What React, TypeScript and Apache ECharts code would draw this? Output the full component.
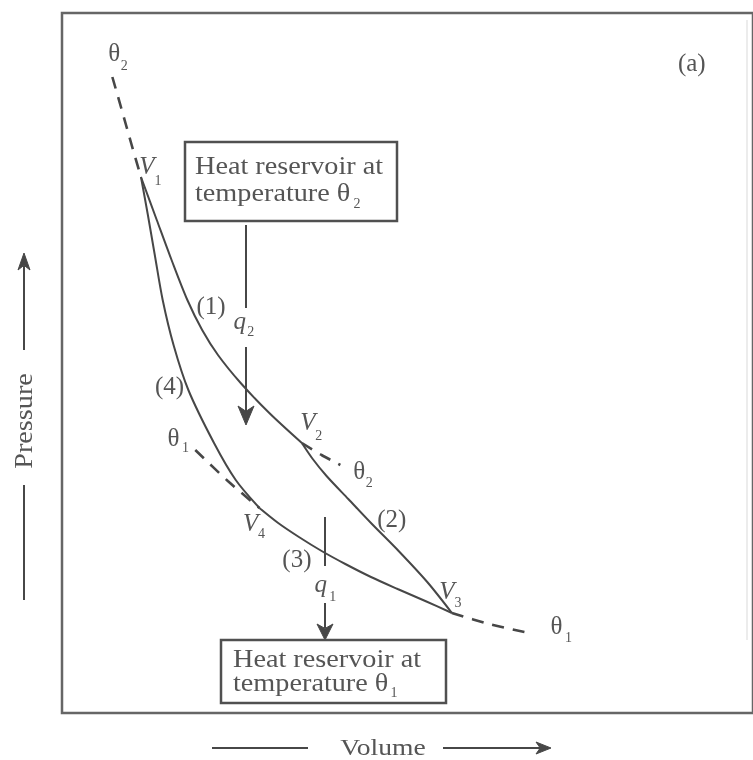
import { useEffect, useRef } from "react";
import * as echarts from "echarts";

// Frame data units: Volume along x, Pressure along y (arbitrary units of the diagram)
const isothermHot = [[80, 536], [96, 493], [111, 453], [127, 413], [142, 383], [158, 358], [181, 330], [210, 300], [243, 270]];
const adiabatExpansion = [[243, 270], [254, 254], [268, 237], [290, 214], [314, 189], [341, 162], [370, 131], [395, 100]];
const isothermCold = [[200, 205], [219, 190], [240, 176], [263, 162], [287, 149], [313, 136], [340, 124], [368, 112], [395, 100]];
const adiabatCompression = [[200, 205], [176, 233], [154, 270], [128, 323], [113, 368], [102, 413], [94, 458], [87, 498], [80, 536]];
const hotExtUpper = [[51, 636], [60, 605], [70, 570], [80, 536]];
const hotExtLower = [[243, 270], [263, 258], [282, 248]];
const coldExtUpper = [[135, 263], [168, 232], [200, 205]];
const coldExtLower = [[395, 100], [433, 89], [473, 80]];

// Labels anchored in data units
const symbolLabels = [
  { main: "θ", sub: "2", at: [53, 661], italic: false, dx: 10, dy: 13 },
  { main: "V", sub: "1", at: [86, 548], italic: true, dx: 11, dy: 15 },
  { main: "V", sub: "2", at: [249, 292], italic: true, dx: 11, dy: 14 },
  { main: "V", sub: "3", at: [390, 123], italic: true, dx: 11, dy: 12 },
  { main: "V", sub: "4", at: [191, 191], italic: true, dx: 11, dy: 11 },
  { main: "θ", sub: "1", at: [113, 276], italic: false, dx: 12, dy: 10 },
  { main: "θ", sub: "2", at: [301, 243], italic: false, dx: 10, dy: 12 },
  { main: "θ", sub: "1", at: [501, 88], italic: false, dx: 12, dy: 12 },
  { main: "q", sub: "2", at: [180, 393], italic: true, dx: 11, dy: 11 },
  { main: "q", sub: "1", at: [262, 130], italic: true, dx: 12, dy: 13 },
];
const stepLabels = [
  { text: "(1)", at: [151, 408] },
  { text: "(4)", at: [109, 328] },
  { text: "(2)", at: [334, 195] },
  { text: "(3)", at: [238, 155] },
  { text: "(a)", at: [638, 651] },
];
const hotReservoir = ["Heat reservoir at", "temperature θ", "2"];
const coldReservoir = ["Heat reservoir at", "temperature θ", "1"];
const axisNames = ["Pressure", "Volume"];

export default function App() {
  const ref = useRef<HTMLDivElement>(null);
  useEffect(() => {
    document.body.style.margin = "0";
    const chart = echarts.init(ref.current!, null, { renderer: "svg" });
    const lineColor = "#474747";
    const textColor = "#555555";
    const serif = "'Liberation Serif', 'Times New Roman', serif";
    const solid = (name: string, data: number[][]) => ({
      type: "line",
      name,
      data,
      showSymbol: false,
      smooth: 0.3,
      silent: true,
      lineStyle: { color: lineColor, width: 2 },
    });
    const dashed = (name: string, data: number[][]) => ({
      type: "line",
      name,
      data,
      showSymbol: false,
      smooth: 0.3,
      silent: true,
      lineStyle: { color: lineColor, width: 2.6, type: [12, 9] },
    });
    chart.setOption({
      animation: false,
      grid: {
        left: 62,
        top: 13,
        width: 700,
        height: 700,
        show: true,
        borderColor: "#666666",
        borderWidth: 2.5,
        backgroundColor: "transparent",
      },
      xAxis: { type: "value", min: 0, max: 700, show: false },
      yAxis: { type: "value", min: 0, max: 700, show: false },
      series: [
        solid("isothermHot", isothermHot),
        solid("adiabatExpansion", adiabatExpansion),
        solid("isothermCold", isothermCold),
        solid("adiabatCompression", adiabatCompression),
        dashed("hotExtUpper", hotExtUpper),
        dashed("hotExtLower", hotExtLower),
        dashed("coldExtUpper", coldExtUpper),
        dashed("coldExtLower", coldExtLower),
      ],
    });

    const toPx = (p: number[]) => chart.convertToPixel({ gridIndex: 0 }, p) as number[];
    const txt = (text: string, x: number, y: number, size: number, opts: any = {}) => ({
      type: "text",
      x,
      y,
      silent: true,
      scaleX: opts.scaleX ?? 1,
      rotation: opts.rotation ?? 0,
      style: {
        text,
        fill: textColor,
        fontSize: size,
        fontFamily: serif,
        fontStyle: opts.italic ? "italic" : "normal",
        align: opts.align ?? "center",
        textAlign: opts.align ?? "center",
        verticalAlign: "middle",
        textVerticalAlign: "middle",
      },
    });
    const head = (tx: number, ty: number, dir: "down" | "up" | "right", len: number, hw: number) => {
      let pts: number[][];
      if (dir === "down") pts = [[tx, ty], [tx - hw, ty - len], [tx, ty - len * 0.72], [tx + hw, ty - len]];
      else if (dir === "up") pts = [[tx, ty], [tx - hw, ty + len], [tx, ty + len * 0.72], [tx + hw, ty + len]];
      else pts = [[tx, ty], [tx - len, ty - hw], [tx - len * 0.72, ty], [tx - len, ty + hw]];
      return { type: "polygon", silent: true, shape: { points: pts }, style: { fill: lineColor, stroke: lineColor, lineWidth: 1 } };
    };
    const seg = (x1: number, y1: number, x2: number, y2: number, w = 2) => ({
      type: "line",
      silent: true,
      shape: { x1, y1, x2, y2 },
      style: { stroke: lineColor, lineWidth: w },
    });
    const box = (x: number, y: number, w: number, h: number) => ({
      type: "rect",
      silent: true,
      shape: { x, y, width: w, height: h },
      style: { fill: "#ffffff", stroke: "#505050", lineWidth: 2.5 },
    });

    const els: any[] = [];
    // faint right edge of the scanned frame
    els.push({ type: "line", silent: true, shape: { x1: 747, y1: 20, x2: 747, y2: 640 }, style: { stroke: "#ececec", lineWidth: 2 } });

    symbolLabels.forEach((l) => {
      const [x, y] = toPx(l.at);
      els.push(txt(l.main, x, y, 25, { italic: l.italic }));
      els.push(txt(l.sub, x + l.dx, y + l.dy, 14));
    });
    stepLabels.forEach((l) => {
      const [x, y] = toPx(l.at);
      els.push(txt(l.text, x, y, 25));
    });

    // hot reservoir box and heat flow q2
    els.push(box(185, 142, 212, 79));
    els.push(txt(hotReservoir[0], 195, 166, 25, { align: "left", scaleX: 1.13 }));
    els.push(txt(hotReservoir[1], 195, 193, 25, { align: "left", scaleX: 1.13 }));
    els.push(txt(hotReservoir[2], 357, 203, 14));
    els.push(seg(246, 225, 246, 308));
    els.push(seg(246, 347, 246, 412));
    els.push(head(246, 425, "down", 19, 8));

    // cold reservoir box and heat flow q1
    els.push(seg(325, 517, 325, 566));
    els.push(seg(325, 603, 325, 628));
    els.push(head(325, 640, "down", 16, 8));
    els.push(box(221, 640, 225, 63));
    els.push(txt(coldReservoir[0], 233, 659, 25, { align: "left", scaleX: 1.13 }));
    els.push(txt(coldReservoir[1], 233, 683, 25, { align: "left", scaleX: 1.13 }));
    els.push(txt(coldReservoir[2], 394, 692, 14));

    // axis names with arrows
    els.push(txt(axisNames[0], 24, 421, 25, { rotation: Math.PI / 2, scaleX: 1.13 }));
    els.push(seg(24, 350, 24, 266));
    els.push(head(24, 253, "up", 17, 6));
    els.push(seg(24, 485, 24, 600));
    els.push(txt(axisNames[1], 383, 747, 24, { scaleX: 1.15 }));
    els.push(seg(212, 748, 308, 748));
    els.push(seg(443, 748, 540, 748));
    els.push(head(551, 748, "right", 15, 6));

    chart.setOption({ graphic: { elements: els } });
    return () => chart.dispose();
  }, []);
  return <div ref={ref} style={{ position: "fixed", left: 0, top: 0, width: 753, height: 760 }} />;
}
